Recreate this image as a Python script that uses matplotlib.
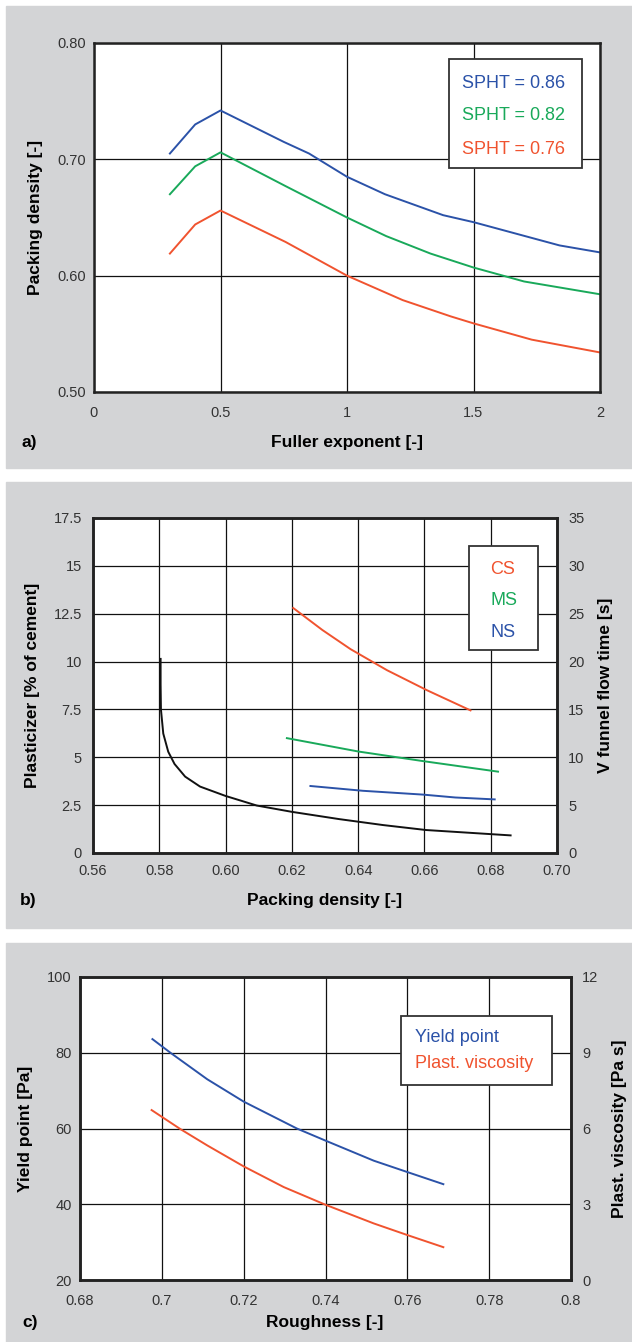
import numpy as np
import matplotlib.pyplot as plt
from matplotlib.patches import Rectangle

plt.rcParams['font.family'] = ['Liberation Sans', 'DejaVu Sans']

BLUE = '#2b52a8'
GREEN = '#19a95a'
RED = '#f0532f'
GREY_BG = '#d3d4d6'
INK = '#222222'

# a) packing density vs Fuller exponent
fuller_x = [0.3, 0.4, 0.5, 0.75, 0.85, 1.0, 1.15, 1.38, 1.5, 1.84, 2.0]
sp086 = [0.705, 0.730, 0.742, 0.715, 0.705, 0.685, 0.670, 0.652, 0.646, 0.626, 0.620]
fuller_x2 = [0.3, 0.4, 0.5, 0.757, 1.0, 1.155, 1.33, 1.5, 1.7, 2.0]
sp082 = [0.670, 0.694, 0.706, 0.677, 0.650, 0.634, 0.619, 0.607, 0.595, 0.584]
fuller_x3 = [0.3, 0.4, 0.5, 0.757, 1.0, 1.22, 1.41, 1.5, 1.73, 2.0]
sp076 = [0.619, 0.644, 0.656, 0.629, 0.600, 0.579, 0.565, 0.559, 0.545, 0.534]

# b) plasticizer demand and V funnel time vs packing density
pd_black = [0.5804, 0.5804, 0.5805, 0.5812, 0.5827, 0.5846, 0.5878, 0.5923,
            0.600, 0.6094, 0.620, 0.6343, 0.6475, 0.6605, 0.686]
plast = [10.14, 8.8, 7.5, 6.24, 5.29, 4.65, 3.99, 3.47,
         2.98, 2.48, 2.15, 1.77, 1.46, 1.2, 0.92]
pd_cs = [0.6204, 0.6292, 0.6377, 0.6487, 0.6608, 0.6739]
t_cs = [25.6, 23.3, 21.3, 19.1, 17.0, 14.9]
pd_ms = [0.6185, 0.6401, 0.6596, 0.6822]
t_ms = [12.0, 10.6, 9.6, 8.5]
pd_ns = [0.6256, 0.6414, 0.6596, 0.6693, 0.6812]
t_ns = [7.0, 6.5, 6.1, 5.8, 5.6]

# c) yield point and plastic viscosity vs roughness
rough_y = [0.6977, 0.7021, 0.7111, 0.72, 0.733, 0.74, 0.7518, 0.76, 0.7688]
yield_pt = [83.6, 80.0, 73.0, 67.1, 60.0, 56.8, 51.5, 48.5, 45.3]
rough_v = [0.6975, 0.7046, 0.7111, 0.72, 0.7298, 0.74, 0.7518, 0.76, 0.7688]
visc = [6.73, 5.97, 5.33, 4.50, 3.68, 2.98, 2.24, 1.78, 1.30]

W, H = 632, 1342
fig = plt.figure(figsize=(W / 100, H / 100), dpi=100)


def rect(x0, y0, x1, y1):
    # pixel box (top-left origin) -> figure fraction
    return [x0 / W, 1 - y1 / H, (x1 - x0) / W, (y1 - y0) / H]


def ftext(x, y, s, **kw):
    fig.text(x / W, 1 - y / H, s, **kw)


# grey panel backgrounds, kept below the axes
for y0, y1 in [(6, 468), (482, 928), (943, 1342)]:
    fig.patches.append(Rectangle((6 / W, 1 - y1 / H), (W - 6) / W, (y1 - y0) / H,
                                 transform=fig.transFigure, color=GREY_BG, zorder=-5))


def style(ax):
    ax.set_facecolor('white')
    for s in ax.spines.values():
        s.set_linewidth(1.8)
        s.set_color(INK)
    ax.tick_params(length=0, labelsize=10.5, labelcolor='#333333')
    ax.grid(True, color='#111111', linewidth=0.9)
    ax.set_axisbelow(True)


def legend_box(x0, y0, x1, y1, entries, x_text, ys, size):
    box = Rectangle((x0 / W, 1 - y1 / H), (x1 - x0) / W, (y1 - y0) / H,
                    transform=fig.transFigure, facecolor='white',
                    edgecolor='#333333', linewidth=1.3, zorder=5)
    fig.patches.append(box)
    for (label, col), yy in zip(entries, ys):
        ftext(x_text, yy, label, color=col, fontsize=size, va='center', ha='left', zorder=6)


# ---- panel a ----
ax1 = fig.add_axes(rect(94, 43, 600, 392))
style(ax1)
ax1.plot(fuller_x, sp086, color=BLUE, lw=1.4)
ax1.plot(fuller_x2, sp082, color=GREEN, lw=1.4)
ax1.plot(fuller_x3, sp076, color=RED, lw=1.4)
ax1.set_xlim(0, 2)
ax1.set_ylim(0.5, 0.8)
ax1.set_xticks([0, 0.5, 1, 1.5, 2])
ax1.set_xticklabels(['0', '0.5', '1', '1.5', '2'])
ax1.set_yticks([0.5, 0.6, 0.7, 0.8])
ax1.set_yticklabels(['0.50', '0.60', '0.70', '0.80'])
ax1.tick_params(axis='x', pad=10)
ax1.tick_params(axis='y', pad=6)
ax1.set_ylabel('Packing density [-]', fontsize=12.5, fontweight='bold', labelpad=10)
ftext(347, 443, 'Fuller exponent [-]', fontsize=12.5, fontweight='bold', ha='center', va='center')
ftext(22, 443, 'a)', fontsize=12.5, fontweight='bold', ha='left', va='center')
legend_box(449, 59, 582, 168,
           [('SPHT = 0.86', BLUE), ('SPHT = 0.82', GREEN), ('SPHT = 0.76', RED)],
           462, [84, 116, 149], 13)

# ---- panel b ----
ax2 = fig.add_axes(rect(93, 518, 557, 853))
style(ax2)
ax2.plot(pd_black, plast, color='#111111', lw=1.4)
ax2.set_xlim(0.56, 0.70)
ax2.set_ylim(0, 17.5)
ax2.set_xticks(np.arange(0.56, 0.701, 0.02))
ax2.set_xticklabels(['0.56', '0.58', '0.60', '0.62', '0.64', '0.66', '0.68', '0.70'])
ax2.set_yticks(np.arange(0, 17.6, 2.5))
ax2.set_yticklabels(['0', '2.5', '5', '7.5', '10', '12.5', '15', '17.5'])
ax2.tick_params(axis='x', pad=8)
ax2.tick_params(axis='y', pad=8)
ax2.set_ylabel('Plasticizer [% of cement]', fontsize=12.5, fontweight='bold', labelpad=10)
ax2r = ax2.twinx()
ax2r.plot(pd_cs, t_cs, color=RED, lw=1.4)
ax2r.plot(pd_ms, t_ms, color=GREEN, lw=1.4)
ax2r.plot(pd_ns, t_ns, color=BLUE, lw=1.4)
ax2r.set_ylim(0, 35)
ax2r.set_yticks(np.arange(0, 36, 5))
ax2r.tick_params(length=0, labelsize=10.5, labelcolor='#333333', pad=8)
for s in ax2r.spines.values():
    s.set_linewidth(1.8)
    s.set_color(INK)
ax2r.set_ylabel('V funnel flow time [s]', fontsize=12.5, fontweight='bold', labelpad=10)
ftext(325, 901, 'Packing density [-]', fontsize=12.5, fontweight='bold', ha='center', va='center')
ftext(20, 900, 'b)', fontsize=12.5, fontweight='bold', ha='left', va='center')
legend_box(469, 546, 538, 650,
           [('CS', RED), ('MS', GREEN), ('NS', BLUE)],
           490, [569, 600, 632], 13)

# ---- panel c ----
ax3 = fig.add_axes(rect(80, 977, 571, 1280))
style(ax3)
ax3.plot(rough_y, yield_pt, color=BLUE, lw=1.4)
ax3.set_xlim(0.68, 0.80)
ax3.set_ylim(20, 100)
ax3.set_xticks(np.arange(0.68, 0.801, 0.02))
ax3.set_xticklabels(['0.68', '0.7', '0.72', '0.74', '0.76', '0.78', '0.8'])
ax3.set_yticks([20, 40, 60, 80, 100])
ax3.tick_params(axis='x', pad=10)
ax3.tick_params(axis='y', pad=6)
ax3.set_ylabel('Yield point [Pa]', fontsize=12.5, fontweight='bold', labelpad=10)
ax3r = ax3.twinx()
ax3r.plot(rough_v, visc, color=RED, lw=1.4)
ax3r.set_ylim(0, 12)
ax3r.set_yticks([0, 3, 6, 9, 12])
ax3r.tick_params(length=0, labelsize=10.5, labelcolor='#333333', pad=8)
for s in ax3r.spines.values():
    s.set_linewidth(1.8)
    s.set_color(INK)
ax3r.set_ylabel('Plast. viscosity [Pa s]', fontsize=12.5, fontweight='bold', labelpad=10)
ftext(325, 1322, 'Roughness [-]', fontsize=12.5, fontweight='bold', ha='center', va='center')
ftext(22, 1322, 'c)', fontsize=12.5, fontweight='bold', ha='left', va='center')
legend_box(401, 1016, 552, 1085,
           [('Yield point', BLUE), ('Plast. viscosity', RED)],
           415, [1037, 1064], 13)

fig.savefig('out.png', dpi=100)
